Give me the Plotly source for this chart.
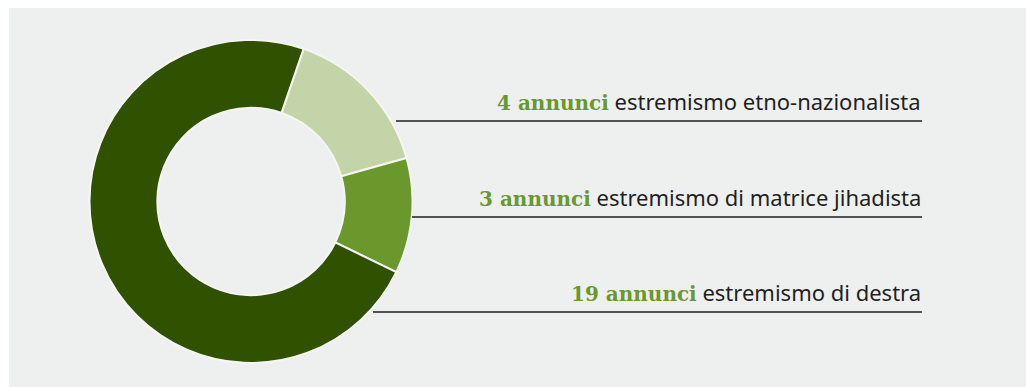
import plotly.graph_objects as go

W, H = 1026, 387

# ---- data ----
counts = [4, 3, 19]
count_labels = ["4 annunci", "3 annunci", "19 annunci"]
categories = ["estremismo etno-nazionalista", "estremismo di matrice jihadista", "estremismo di destra"]
slice_colors = ["#c4d4a9", "#6a982c", "#2f5100"]

PANEL = "#eef0ef"
ACCENT = "#6a982c"
TEXT = "#1f1f1f"

def px(x):
    return x / W

def py(y):
    return 1 - y / H

# donut geometry (pixels)
cx, cy, R = 251, 201.5, 161.5

fig = go.Figure()
fig.add_trace(go.Pie(
    labels=categories,
    values=counts,
    marker=dict(colors=slice_colors, line=dict(color="#f4f6f2", width=2)),
    hole=0.58,
    sort=False,
    direction="clockwise",
    rotation=19,
    textinfo="none",
    hoverinfo="label+value",
    showlegend=False,
    domain=dict(x=[px(cx - R), px(cx + R)], y=[py(cy + R), py(cy - R)]),
))

shapes = [dict(type="rect", xref="paper", yref="paper", x0=px(9), x1=1.0, y0=0, y1=py(8),
               fillcolor=PANEL, line=dict(width=0), layer="below")]
annotations = []

# label rows: (line y, line start x)
rows = [(121, 396), (217, 412), (312, 373)]
x_end = 922
for (ly, lx0), cl, cat in zip(rows, count_labels, categories):
    shapes.append(dict(type="line", xref="paper", yref="paper",
                       x0=px(lx0), x1=px(x_end), y0=py(ly), y1=py(ly),
                       line=dict(color=TEXT, width=1.5)))
    annotations.append(dict(
        xref="paper", yref="paper", x=px(x_end + 1), y=py(ly - 3),
        xanchor="right", yanchor="bottom", showarrow=False,
        text=(f"<span style='font-family:DejaVu Serif;font-size:20px;color:{ACCENT}'><b>{cl}</b></span>"
              f" {cat}"),
        font=dict(family="Noto Sans", size=22, color=TEXT),
    ))

fig.update_layout(
    width=W, height=H,
    margin=dict(l=0, r=0, t=0, b=0),
    paper_bgcolor="white",
    plot_bgcolor="white",
    shapes=shapes,
    annotations=annotations,
)

fig.write_html("out.html")
